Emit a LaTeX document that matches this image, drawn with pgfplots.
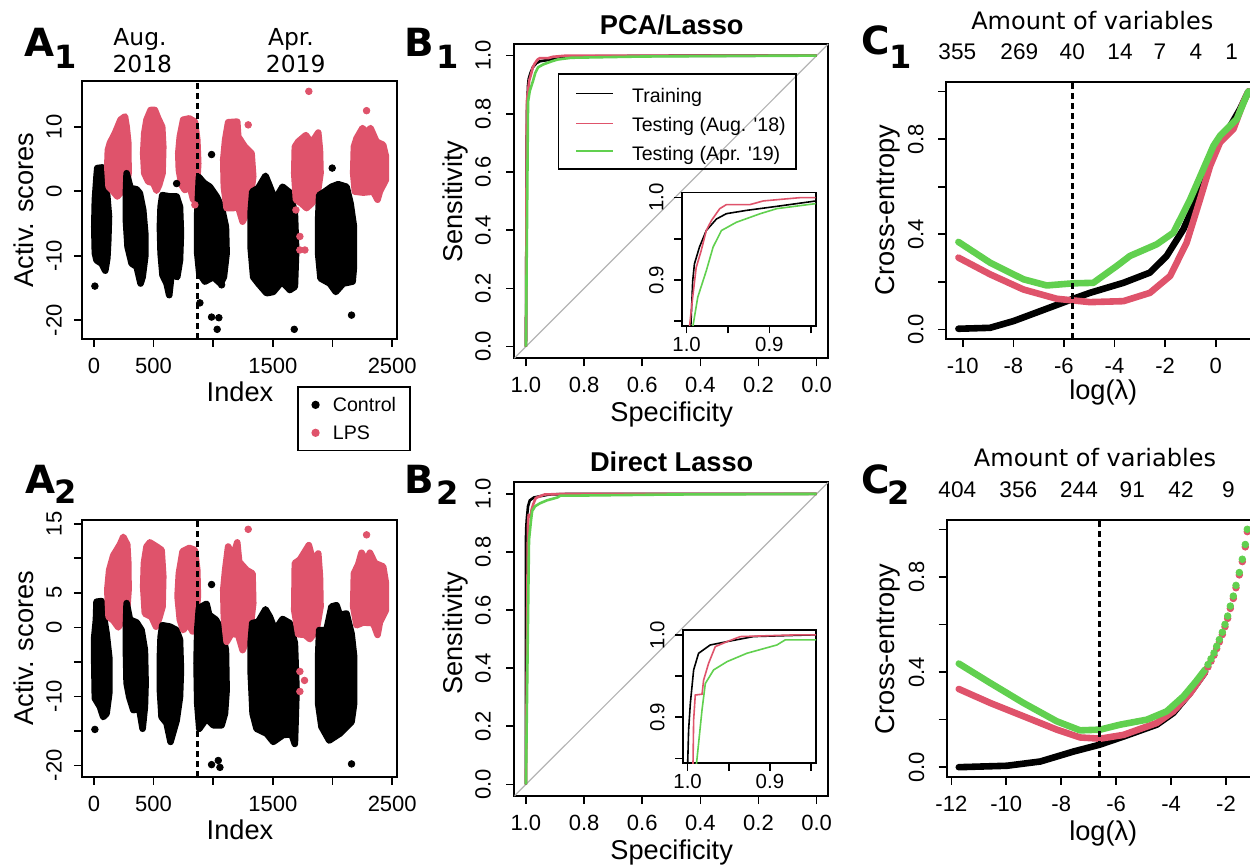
\documentclass[border=0pt]{standalone}
\usepackage{fontspec}
\setmainfont{Liberation Sans}[Ligatures=TeXOff]
\newfontfamily\dejavu{DejaVu Sans}
\usepackage{pgfplots}
\pgfplotsset{compat=1.18}
\definecolor{lps}{HTML}{DF536B}
\definecolor{grn}{HTML}{61D04F}
\definecolor{diag}{HTML}{B4B4B4}
\newcommand\fs[1]{\fontsize{#1}{#1}\selectfont}
\pgfplotsset{
 rbase/.style={scale only axis, axis line style={line width=0.8pt}, tick style={line width=0.8pt, black},
   tick align=outside, major tick length=4pt, xtick pos=left, ytick pos=left,
   ticklabel style={font=\fs{11}},
   xticklabel style={anchor=base, inner sep=0pt}, xticklabel shift=13.2pt,
   yticklabel style={rotate=90, anchor=base, inner sep=0pt}},
 cl/.style={forget plot, fill=black, draw=black, line width=3.3pt, line join=round},
 rd/.style={forget plot, fill=lps, draw=lps, line width=3.3pt, line join=round},
 ocl/.style={forget plot, only marks, mark=*, mark size=1.65pt, black},
 ord/.style={forget plot, only marks, mark=*, mark size=1.65pt, lps},
 dl/.style={forget plot, black, line width=1.6pt, dash pattern=on 3pt off 2pt},
}
\begin{document}
\begin{tikzpicture}
\useasboundingbox (0,0) rectangle (625pt,432pt);
\clip (0,0) rectangle (625pt,432pt);
% ---------------- A1
\begin{axis}[rbase, at={(41pt,262.5pt)}, anchor=south west, width=157.5pt, height=129pt,
  xmin=-100, xmax=2540, ymin=-22.9, ymax=17.1,
  xtick={0,500,1000,1500,2000,2500}, xticklabels={0,500,,1500,,2500},
  ytick={-20,-10,0,10}, yticklabels={-20,-10,0,10}, yticklabel shift=6.2pt,
  legend style={at={(0.684,-0.182)}, anchor=north west, draw=black, line width=0.8pt, fill=none,
    font=\fs{9.8}, inner xsep=7pt, inner ysep=5pt, row sep=6pt,
    nodes={inner xsep=0pt, inner ysep=0.5pt, text depth=0pt}}, legend cell align=left,
  legend image code/.code={\draw[#1] plot coordinates {(1.65pt,0pt)}; \path[draw=none, fill=none] (0pt,0pt) rectangle (10.3pt,0.1pt);}]
\addplot[cl] coordinates {(28,3.6)(73,3.7)(89,1.8)(112,-0.8)(126,-3.9)(120,-7.6)(112,-10.4)(95,-12.3)(64,-11.2)(22,-10.7)(8,-9.6)(3,-5.5)(8,-1.3)(22,2.3)} -- cycle;
\addplot[ocl] coordinates {(8,-14.7)};
\addplot[rd] coordinates {(134,7.5)(176,9.0)(223,11.1)(260,11.6)(274,10.0)(288,7.5)(290,2.8)(274,0.7)(232,-0.05)(196,-0.8)(162,-0.05)(123,0.7)(112,3.8)(117,6.4)} -- cycle;
\addplot[cl] coordinates {(274,2.8)(307,0.5)(358,0.3)(385,-0.3)(413,-2.9)(430,-6.5)(430,-10.1)(408,-13.3)(391,-14.3)(358,-11.7)(316,-11.2)(282,-8.6)(268,-4.5)(268,-0.3)} -- cycle;
\addplot[rd] coordinates {(422,9.0)(441,11.1)(475,12.6)(511,12.6)(539,11.3)(572,10.0)(581,6.9)(575,2.8)(547,1.0)(525,0.1)(497,1.3)(455,1.5)(422,2.8)(413,5.9)} -- cycle;
\addplot[cl] coordinates {(573,-0.6)(637,-0.8)(693,-0.8)(721,-2.4)(729,-6.5)(721,-10.7)(698,-13.3)(651,-12.7)(631,-16.1)(609,-14.3)(575,-13.0)(559,-9.6)(553,-5.5)(559,-2.4)} -- cycle;
\addplot[ocl] coordinates {(693,1.2)};
\addplot[rd] coordinates {(720,8.5)(748,11.1)(799,11.3)(846,10.8)(866,8.0)(874,4.3)(866,1.8)(832,-1.3)(804,0.7)(762,0.2)(734,1.0)(712,3.3)(707,5.9)} -- cycle;
\addplot[ord] coordinates {(846,-2.1)};
\addplot[cl] coordinates {(880,2.2)(922,1.3)(972,0.7)(1028,-0.8)(1070,-2.4)(1106,-5.5)(1112,-9.6)(1089,-13.3)(1061,-14.3)(1000,-13.3)(930,-14.0)(883,-12.7)(866,-9.6)(866,-3.4)} -- cycle;
\addplot[ocl] coordinates {(986,5.7)(888,-17.3)(986,-19.5)(1047,-19.6)(1033,-21.4)(1070,-14.5)};
\addplot[rd] coordinates {(1100,8.0)(1125,10.7)(1201,10.8)(1209,8.5)(1265,6.9)(1321,5.9)(1335,2.3)(1313,-0.8)(1279,-3.4)(1246,-4.7)(1209,-2.4)(1167,-2.6)(1112,-2.6)(1089,0.7)(1084,4.9)} -- cycle;
\addplot[ord] coordinates {(1293,10.3)};
\addplot[cl] coordinates {(1327,-0.05)(1377,0.5)(1438,2.4)(1469,1.0)(1517,-1.3)(1581,0.7)(1642,-0.2)(1684,-3.4)(1695,-9.1)(1684,-14.8)(1642,-15.3)(1575,-14.0)(1503,-15.6)(1447,-15.8)(1377,-14.3)(1335,-13.3)(1313,-8.6)(1313,-3.4)} -- cycle;
\addplot[ocl] coordinates {(1679,-21.4)};
\addplot[rd] coordinates {(1684,6.9)(1712,7.7)(1776,8.7)(1824,7.5)(1880,9.1)(1894,6.4)(1899,2.8)(1871,-0.8)(1824,-1.9)(1782,-2.6)(1740,-1.9)(1693,-1.3)(1679,2.8)} -- cycle;
\addplot[ord] coordinates {(1801,15.5)(1726,-7.0)(1726,-9.1)(1768,-9.1)(1693,-2.9)};
\addplot[cl] coordinates {(1888,-0.6)(1935,-0.05)(1991,0.7)(2047,1.1)(2117,0.7)(2151,-1.9)(2179,-5.5)(2179,-11.7)(2168,-14.0)(2089,-14.3)(2027,-15.6)(1977,-14.3)(1899,-13.5)(1879,-9.6)(1879,-4.5)} -- cycle;
\addplot[ocl] coordinates {(1997,3.6)(2159,-19.2)};
\addplot[rd] coordinates {(2179,6.9)(2201,8.2)(2251,9.8)(2285,9.0)(2318,9.8)(2368,7.7)(2424,7.2)(2447,5.4)(2447,1.8)(2396,-0.05)(2377,-1.3)(2341,-0.05)(2257,-0.2)(2187,-0.05)(2173,2.8)} -- cycle;
\addplot[ord] coordinates {(2285,12.5)};
\addplot[dl] coordinates {(869,-22.9)(869,17.1)};
\addlegendimage{only marks, mark=*, mark size=1.65pt, black}
\addlegendentry{Control}
\addlegendimage{only marks, mark=*, mark size=1.65pt, lps}
\addlegendentry{LPS}
\end{axis}
% ---------------- A2
\begin{axis}[rbase, at={(41pt,43.65pt)}, anchor=south west, width=157.5pt, height=128.35pt,
  xmin=-100, xmax=2540, ymin=-21.65, ymax=15.55,
  xtick={0,500,1000,1500,2000,2500}, xticklabels={0,500,,1500,,2500},
  ytick={-20,-15,-10,-5,0,5,10,15}, yticklabels={-20,,-10,,0,5,,15}, yticklabel shift=6.2pt]
\addplot[cl] coordinates {(22,3.7)(64,3.8)(84,1.5)(106,-0.9)(128,-4.3)(128,-9.6)(106,-12.5)(78,-13.0)(50,-11.5)(8,-10.3)(3,-5.2)(3,-1.4)(17,1.1)} -- cycle;
\addplot[ocl] coordinates {(8,-14.8)};
\addplot[rd] coordinates {(128,8.3)(162,10.4)(218,12.0)(246,13.1)(279,12.0)(288,9.3)(290,5.4)(274,1.5)(232,0.8)(204,0.0)(162,1.0)(123,1.5)(112,5.4)} -- cycle;
\addplot[cl] coordinates {(274,3.5)(302,1.1)(358,0.7)(399,-0.4)(427,-3.3)(433,-8.1)(427,-11.5)(408,-14.7)(380,-11.8)(330,-12.0)(296,-10.1)(274,-8.1)(268,-3.3)(268,0.1)} -- cycle;
\addplot[rd] coordinates {(419,9.3)(441,11.7)(469,12.3)(525,11.7)(567,11.2)(581,7.4)(575,3.0)(547,1.3)(520,0.1)(483,1.5)(427,2.0)(413,5.9)} -- cycle;
\addplot[cl] coordinates {(573,0.3)(637,0.1)(693,-0.4)(721,-1.8)(729,-6.2)(721,-10.1)(693,-13.5)(642,-16.6)(609,-13.9)(567,-13.0)(553,-9.1)(553,-4.3)(559,-1.4)} -- cycle;
\addplot[rd] coordinates {(712,7.8)(743,11.0)(799,11.5)(846,11.2)(866,8.3)(871,4.5)(860,2.3)(827,-0.6)(790,0.6)(748,-0.4)(720,1.1)(701,4.5)} -- cycle;
\addplot[cl] coordinates {(880,2.8)(944,3.4)(966,1.8)(1022,1.1)(1070,-0.4)(1106,-3.3)(1112,-9.1)(1098,-12.5)(1070,-14.2)(1000,-14.2)(944,-13.2)(883,-14.7)(866,-11.0)(860,-5.2)(866,-0.4)} -- cycle;
\addplot[ocl] coordinates {(986,6.2)(986,-19.9)(1042,-19.3)(1056,-20.3)};
\addplot[rd] coordinates {(1100,8.3)(1125,11.7)(1167,10.3)(1201,12.3)(1217,9.5)(1279,8.3)(1329,7.8)(1335,3.5)(1313,0.1)(1279,-1.9)(1246,-3.3)(1209,-1.1)(1153,-0.9)(1112,-2.1)(1089,1.5)(1084,5.4)} -- cycle;
\addplot[ord] coordinates {(1293,14.2)};
\addplot[cl] coordinates {(1327,0.6)(1377,0.8)(1438,2.6)(1475,1.5)(1517,-0.4)(1581,1.2)(1642,0.6)(1684,-2.3)(1698,-9.1)(1684,-16.9)(1656,-15.5)(1586,-15.6)(1503,-16.6)(1447,-15.4)(1363,-14.7)(1330,-12.5)(1313,-6.2)(1313,-2.3)} -- cycle;
\addplot[rd] coordinates {(1684,9.3)(1726,9.8)(1801,11.9)(1838,9.5)(1880,10.7)(1894,7.4)(1899,3.0)(1866,-0.4)(1810,-1.7)(1768,-1.1)(1712,-1.0)(1679,2.5)} -- cycle;
\addplot[ord] coordinates {(1726,-6.4)(1765,-7.7)(1726,-9.3)};
\addplot[cl] coordinates {(1888,-0.4)(1949,-0.4)(1991,3.0)(2033,3.2)(2061,1.8)(2117,2.0)(2159,-0.9)(2181,-4.3)(2181,-11.0)(2159,-13.7)(2061,-15.4)(1972,-16.4)(1907,-14.4)(1879,-11.0)(1879,-4.3)} -- cycle;
\addplot[ocl] coordinates {(2159,-19.8)};
\addplot[rd] coordinates {(2179,7.8)(2215,9.1)(2243,10.8)(2285,9.5)(2313,10.8)(2355,9.3)(2424,8.8)(2447,6.4)(2447,2.5)(2396,0.7)(2377,-1.1)(2341,0.6)(2257,0.7)(2201,0.3)(2173,3.0)} -- cycle;
\addplot[ord] coordinates {(2285,13.4)};
\addplot[dl] coordinates {(869,-21.65)(869,15.55)};
\end{axis}
% ---------------- B1
\begin{axis}[rbase, at={(257.15pt,252.85pt)}, anchor=south west, width=157pt, height=157.15pt,
  x dir=reverse, xmin=-0.04, xmax=1.04, ymin=-0.04, ymax=1.04,
  xtick={0,0.2,0.4,0.6,0.8,1}, xticklabels={0.0,0.2,0.4,0.6,0.8,1.0},
  ytick={0,0.2,0.4,0.6,0.8,1}, yticklabels={0.0,0.2,0.4,0.6,0.8,1.0}, yticklabel shift=7.8pt]
\addplot[diag, line width=0.6pt] coordinates {(1.04,-0.04)(-0.04,1.04)};
\addplot[black, line width=1.3pt] coordinates {(1,0)(0.9967,0.80)(0.9927,0.899)(0.9906,0.9195)(0.9845,0.94)(0.9763,0.96)(0.964,0.974)(0.952,0.9805)(0.9276,0.9845)(0.891,0.9894)(0.844,0.9959)(0.75,0.998)(0.5,0.9995)(0,1)};
\addplot[lps, line width=1.3pt] coordinates {(1,0)(0.9967,0.842)(0.9927,0.879)(0.9885,0.915)(0.9824,0.9357)(0.9763,0.960)(0.970,0.9723)(0.960,0.9866)(0.952,0.9915)(0.9235,0.9915)(0.9073,0.996)(0.8626,1.0)(0,1)};
\addplot[grn, line width=1.3pt] coordinates {(1,0)(0.9927,0.842)(0.9866,0.879)(0.9763,0.911)(0.968,0.94)(0.958,0.960)(0.94,0.970)(0.911,0.9805)(0.891,0.9866)(0.844,0.9927)(0.6,0.997)(0.3,0.999)(0,1)};
\end{axis}
\begin{axis}[rbase, at={(340.85pt,269pt)}, anchor=south west, width=67pt, height=66.65pt,
  axis background/.style={fill=white}, major tick length=3.7pt,
  ticklabel style={font=\fs{10.2}}, xticklabel shift=9.1pt, yticklabel shift=5.5pt,
  x dir=reverse, xmin=0.844, xmax=1.006, ymin=0.844, ymax=1.006,
  xtick={0.85,0.9,0.95,1}, xticklabels={,0.9,,1.0},
  ytick={0.85,0.9,0.95,1}, yticklabels={,0.9,,1.0}]
\addplot[black, line width=0.8pt] coordinates {(1,0)(0.9967,0.80)(0.9927,0.899)(0.9906,0.9195)(0.9845,0.94)(0.9763,0.96)(0.964,0.974)(0.952,0.9805)(0.9276,0.9845)(0.891,0.9894)(0.844,0.9959)};
\addplot[lps, line width=0.8pt] coordinates {(1,0)(0.9967,0.842)(0.9927,0.879)(0.9885,0.915)(0.9824,0.9357)(0.9763,0.960)(0.970,0.9723)(0.960,0.9866)(0.952,0.9915)(0.9235,0.9915)(0.9073,0.996)(0.8626,1.0)(0.84,1)};
\addplot[grn, line width=0.8pt] coordinates {(1,0)(0.9927,0.842)(0.9866,0.879)(0.9763,0.911)(0.968,0.94)(0.958,0.960)(0.94,0.970)(0.911,0.9805)(0.891,0.9866)(0.844,0.9927)};
\end{axis}
% ---------------- B2
\begin{axis}[rbase, at={(257.15pt,34pt)}, anchor=south west, width=157pt, height=156.85pt,
  x dir=reverse, xmin=-0.04, xmax=1.04, ymin=-0.04, ymax=1.04,
  xtick={0,0.2,0.4,0.6,0.8,1}, xticklabels={0.0,0.2,0.4,0.6,0.8,1.0},
  ytick={0,0.2,0.4,0.6,0.8,1}, yticklabels={0.0,0.2,0.4,0.6,0.8,1.0}, yticklabel shift=7.8pt]
\addplot[diag, line width=0.6pt] coordinates {(1.04,-0.04)(-0.04,1.04)};
\addplot[black, line width=1.3pt] coordinates {(1,0)(1.0,0.842)(0.9988,0.8846)(0.9967,0.917)(0.9927,0.9575)(0.9867,0.9777)(0.9725,0.9878)(0.952,0.9919)(0.92,0.998)(0.85,1.0)(0,1)};
\addplot[lps, line width=1.3pt] coordinates {(1,0)(0.9935,0.842)(0.9927,0.8967)(0.9907,0.927)(0.9825,0.928)(0.9806,0.945)(0.9745,0.9656)(0.9664,0.9858)(0.952,0.9919)(0.936,0.998)(0.871,1.0)(0,1)};
\addplot[grn, line width=1.3pt] coordinates {(1,0)(0.9894,0.842)(0.9867,0.868)(0.9825,0.909)(0.9785,0.941)(0.9684,0.9575)(0.952,0.9676)(0.928,0.9777)(0.8915,0.9878)(0.8814,0.994)(0.844,0.994)(0.5,0.998)(0,1)};
\end{axis}
\begin{axis}[rbase, at={(341.35pt,50.35pt)}, anchor=south west, width=66.65pt, height=66.65pt,
  axis background/.style={fill=white}, major tick length=3.7pt,
  ticklabel style={font=\fs{10.2}}, xticklabel shift=9.1pt, yticklabel shift=5.5pt,
  x dir=reverse, xmin=0.844, xmax=1.006, ymin=0.844, ymax=1.006,
  xtick={0.85,0.9,0.95,1}, xticklabels={,0.9,,1.0},
  ytick={0.85,0.9,0.95,1}, yticklabels={,0.9,,1.0}]
\addplot[black, line width=0.8pt] coordinates {(1,0)(1.0,0.842)(0.9988,0.8846)(0.9967,0.917)(0.9927,0.9575)(0.9867,0.9777)(0.9725,0.9878)(0.952,0.9919)(0.92,0.998)(0.85,1.0)(0.84,1)};
\addplot[lps, line width=0.8pt] coordinates {(1,0)(0.9935,0.842)(0.9927,0.8967)(0.9907,0.927)(0.9825,0.928)(0.9806,0.945)(0.9745,0.9656)(0.9664,0.9858)(0.952,0.9919)(0.936,0.998)(0.871,1.0)(0.84,1)};
\addplot[grn, line width=0.8pt] coordinates {(1,0)(0.9894,0.842)(0.9867,0.868)(0.9825,0.909)(0.9785,0.941)(0.9684,0.9575)(0.952,0.9676)(0.928,0.9777)(0.8915,0.9878)(0.8814,0.994)(0.84,0.994)};
\end{axis}
% ---------------- C1
\begin{axis}[rbase, at={(473pt,262.5pt)}, anchor=south west, width=158.4pt, height=128.5pt,
  xmin=-10.66, xmax=1.86, ymin=-0.04, ymax=1.04,
  xtick={-10,-8,-6,-4,-2,0}, xticklabels={-10,-8,-6,-4,-2,0},
  ytick={0,0.2,0.4,0.6,0.8,1}, yticklabels={0.0,,0.4,,0.8,}, yticklabel shift=7.3pt]
\addplot[black, line width=3.3pt, line cap=round, line join=round] coordinates {(-10.17,0.003)(-8.92,0.007)(-8.0,0.035)(-6.94,0.077)(-5.63,0.129)(-4.97,0.154)(-3.65,0.196)(-2.6,0.239)(-1.94,0.309)(-1.28,0.421)(-0.75,0.547)(-0.36,0.688)(0.04,0.786)(0.43,0.828)(0.96,0.926)(1.29,1.0)};
\addplot[lps, line width=3.3pt, line cap=round, line join=round] coordinates {(-10.17,0.302)(-8.92,0.232)(-7.6,0.168)(-6.28,0.129)(-4.97,0.115)(-3.65,0.119)(-2.6,0.154)(-1.8,0.225)(-1.15,0.365)(-0.62,0.547)(-0.22,0.688)(0.17,0.786)(0.7,0.842)(1.09,0.954)(1.29,1.0)};
\addplot[grn, line width=3.3pt, line cap=round, line join=round] coordinates {(-10.17,0.368)(-8.92,0.281)(-7.6,0.211)(-6.68,0.185)(-5.63,0.194)(-4.84,0.196)(-3.91,0.267)(-3.39,0.309)(-2.33,0.358)(-1.67,0.407)(-1.01,0.547)(-0.49,0.674)(-0.09,0.772)(0.17,0.814)(0.83,0.884)(1.16,0.968)(1.29,1.0)};
\addplot[dl] coordinates {(-5.67,-0.04)(-5.67,1.04)};
\end{axis}
% ---------------- C2
\begin{axis}[rbase, at={(473.35pt,43.65pt)}, anchor=south west, width=156.4pt, height=128.35pt,
  xmin=-12.17, xmax=-0.78, ymin=-0.04, ymax=1.04,
  xtick={-12,-10,-8,-6,-4,-2}, xticklabels={-12,-10,-8,-6,-4,-2},
  ytick={0,0.2,0.4,0.6,0.8,1}, yticklabels={0.0,,0.4,,0.8,}, yticklabel shift=7.3pt]
\addplot[black, line width=3.3pt, line cap=round, line join=round] coordinates {(-11.73,0)(-9.98,0.006)(-8.76,0.024)(-7.55,0.066)(-6.62,0.094)(-5.73,0.129)(-4.52,0.179)(-3.92,0.228)(-3.31,0.312)(-2.76,0.40)};
\addplot[lps, line width=3.3pt, line cap=round, line join=round] coordinates {(-11.73,0.329)(-10.58,0.270)(-9.37,0.214)(-8.16,0.158)(-7.31,0.125)(-6.58,0.120)(-5.73,0.136)(-4.52,0.186)(-3.92,0.235)(-3.31,0.31)(-2.76,0.40)};
\addplot[lps, only marks, mark=*, mark size=1.65pt] coordinates {(-1.224,0.991)(-1.297,0.927)(-1.406,0.865)(-1.515,0.809)(-1.636,0.755)(-1.733,0.710)(-1.842,0.668)(-1.939,0.626)(-2.036,0.591)(-2.133,0.558)(-2.242,0.527)(-2.339,0.499)(-2.436,0.471)(-2.545,0.446)(-2.655,0.422)};
\addplot[grn, line width=3.3pt, line cap=round, line join=round] coordinates {(-11.73,0.436)(-10.58,0.354)(-9.37,0.27)(-8.16,0.193)(-7.31,0.155)(-6.58,0.158)(-5.85,0.179)(-4.88,0.2)(-4.16,0.235)(-3.55,0.298)(-3.1,0.36)(-2.76,0.411)};
\addplot[grn, only marks, mark=*, mark size=1.65pt] coordinates {(-1.224,1.001)(-1.297,0.937)(-1.406,0.875)(-1.515,0.819)(-1.636,0.765)(-1.733,0.720)(-1.842,0.678)(-1.939,0.636)(-2.036,0.601)(-2.133,0.568)(-2.242,0.537)(-2.339,0.509)(-2.436,0.481)(-2.545,0.456)(-2.655,0.432)};
\addplot[dl] coordinates {(-6.62,-0.04)(-6.62,1.04)};
\end{axis}
% ---------------- B1 legend
\draw[line width=0.8pt] (279.15pt,347.35pt) rectangle (398pt,395pt);
\draw[black, line width=0.7pt] (288pt,385.35pt) -- (306.35pt,385.35pt);
\draw[lps, line width=0.7pt] (288pt,370.35pt) -- (306.35pt,370.35pt);
\draw[grn, line width=0.7pt] (288pt,356.5pt) -- (306.35pt,356.5pt);
% ---------------- texts
\begin{scope}[every node/.style={inner sep=0pt}]
\node[anchor=base west, font=\fs{9.8}] at (315.8pt,380.65pt) {Training};
\node[anchor=base west, font=\fs{9.8}] at (315.8pt,366.35pt) {Testing (Aug. '18)};
\node[anchor=base west, font=\fs{9.8}] at (315.8pt,351.85pt) {Testing (Apr. '19)};
\node[anchor=base west, font=\dejavu\bfseries\fs{19.4}] at (12pt,403.65pt) {A};
\node[anchor=base west, font=\dejavu\bfseries\fs{16}] at (27pt,397.85pt) {1};
\node[anchor=base west, font=\dejavu\bfseries\fs{19.4}] at (12.5pt,185.35pt) {A};
\node[anchor=base west, font=\dejavu\bfseries\fs{16}] at (27pt,180pt) {2};
\node[anchor=base west, font=\dejavu\bfseries\fs{19.4}] at (202pt,403.65pt) {B};
\node[anchor=base west, font=\dejavu\bfseries\fs{16}] at (218pt,397.85pt) {1};
\node[anchor=base west, font=\dejavu\bfseries\fs{19.4}] at (202pt,185.35pt) {B};
\node[anchor=base west, font=\dejavu\bfseries\fs{16}] at (218pt,179.5pt) {2};
\node[anchor=base west, font=\dejavu\bfseries\fs{19.4}] at (430.5pt,404.5pt) {C};
\node[anchor=base west, font=\dejavu\bfseries\fs{16}] at (444.3pt,397.85pt) {1};
\node[anchor=base west, font=\dejavu\bfseries\fs{19.4}] at (430.5pt,185.35pt) {C};
\node[anchor=base west, font=\dejavu\bfseries\fs{16}] at (443.5pt,179.5pt) {2};
\node[anchor=base, font=\dejavu\fs{11.7}] at (70pt,409pt) {Aug.};
\node[anchor=base, font=\dejavu\fs{11.7}] at (71.15pt,395.65pt) {2018};
\node[anchor=base, font=\dejavu\fs{11.7}] at (145.5pt,409pt) {Apr.};
\node[anchor=base, font=\dejavu\fs{11.7}] at (147.85pt,395.65pt) {2019};
\node[anchor=base, font=\fs{13.6}] at (120pt,231.15pt) {Index};
\node[anchor=base, font=\fs{13.6}] at (120pt,12.35pt) {Index};
\node[anchor=base, rotate=90, font=\fs{13.6}] at (16.65pt,327pt) {Activ. scores};
\node[anchor=base, rotate=90, font=\fs{13.6}] at (16.65pt,107.85pt) {Activ. scores};
\node[anchor=base, font=\bfseries\fs{13.6}] at (335.85pt,414.5pt) {PCA/Lasso};
\node[anchor=base, font=\bfseries\fs{13.6}] at (335.85pt,196.15pt) {Direct Lasso};
\node[anchor=base, rotate=90, font=\fs{13.6}] at (231.1pt,331.15pt) {Sensitivity};
\node[anchor=base, rotate=90, font=\fs{13.6}] at (231.1pt,115.35pt) {Sensitivity};
\node[anchor=base, font=\fs{13.6}] at (335.85pt,221.4pt) {Specificity};
\node[anchor=base, font=\fs{13.6}] at (335.85pt,2.25pt) {Specificity};
\node[anchor=base, rotate=90, font=\fs{13.6}] at (447.25pt,327pt) {Cross-entropy};
\node[anchor=base, rotate=90, font=\fs{13.6}] at (447.25pt,107.5pt) {Cross-entropy};
\node[anchor=base, font=\fs{13.6}] at (551.65pt,232pt) {log(λ)};
\node[anchor=base, font=\fs{13.6}] at (551.65pt,12pt) {log(λ)};
\node[anchor=base, font=\dejavu\fs{12}] at (546.15pt,417.35pt) {Amount of variables};
\node[anchor=base, font=\dejavu\fs{12}] at (547.5pt,198.65pt) {Amount of variables};
\foreach \x/\t in {478.65/355, 509.65/269, 536.15/40, 560/14, 580/7, 598/4, 615.85/1}
  \node[anchor=base, font=\fs{11.3}] at (\x pt,402.35pt) {\t};
\foreach \x/\t in {478.65/404, 509.15/356, 539.5/244, 566.15/91, 590.5/42, 614.15/9}
  \node[anchor=base, font=\fs{11.3}] at (\x pt,183.35pt) {\t};
\end{scope}
\end{tikzpicture}
\end{document}
